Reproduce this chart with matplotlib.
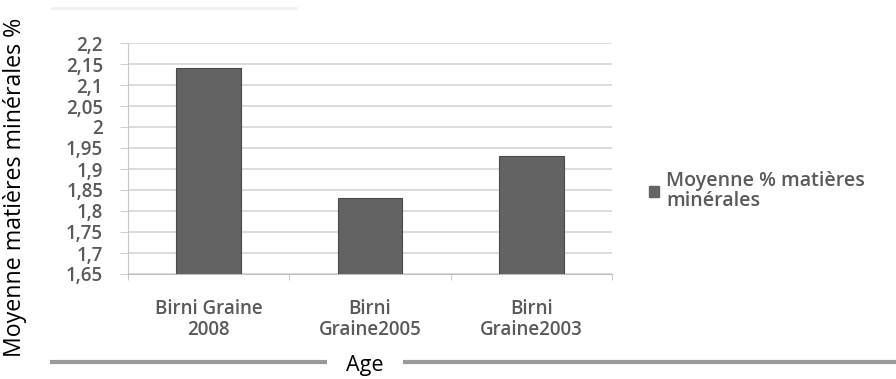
import matplotlib.pyplot as plt
from matplotlib.lines import Line2D

# Data
categories = ["Birni Graine\n2008", "Birni\nGraine2005", "Birni\nGraine2003"]
values = [2.14, 1.83, 1.93]
yticks = [1.65, 1.7, 1.75, 1.8, 1.85, 1.9, 1.95, 2.0, 2.05, 2.1, 2.15, 2.2]
seriesName = "Moyenne % matières\nminérales"

W, H = 896, 379
fig = plt.figure(figsize=(W / 100, H / 100), dpi=100)
ax = fig.add_axes([128 / W, 1 - 274 / H, 484 / W, 231 / H])

grey = "#5a5a5a"
tickFont = {"family": "Open Sans", "size": 13.5, "weight": "semibold"}
ax.bar(range(len(values)), values, width=0.4, color="#636363",
       edgecolor="#4a4a4a", linewidth=0.8, zorder=3, label=seriesName)
ax.set_xlim(-0.5, 2.5)
ax.set_ylim(1.65, 2.2)
ax.set_yticks(yticks)
ax.set_yticklabels([("%g" % t).replace(".", ",") for t in yticks],
                   fontdict=tickFont, color=grey)
ax.set_xticks(range(len(categories)))
ax.set_xticklabels(categories, fontdict=tickFont, color=grey,
                   linespacing=1.05)
ax.tick_params(axis="x", length=0, pad=18)
ax.set_xticks([-0.5, 0.5, 1.5, 2.5], minor=True)
ax.tick_params(axis="x", which="minor", length=4, color="#bfbfbf")
ax.tick_params(axis="y", length=6, color="#d0d0d0", pad=12)
ax.grid(axis="y", color="#d6d6d6", linewidth=1.2, zorder=0)
for s in ["top", "right"]:
    ax.spines[s].set_visible(False)
ax.spines["left"].set_color("#c8c8c8")
ax.spines["bottom"].set_color("#bfbfbf")

fig.text(15 / W, 1 - 187 / H, "Moyenne matières minérales %", rotation=90,
         ha="center", va="center", fontfamily="Open Sans", fontsize=16.7,
         color="black")

# Legend
fig.legend(handles=[plt.Rectangle((0, 0), 1, 1, color="#636363")],
           labels=[seriesName], loc="upper left",
           bbox_to_anchor=(649 / W, 1 - 171 / H), frameon=False,
           prop={"family": "Open Sans", "size": 14, "weight": "semibold"},
           labelcolor=grey, handlelength=0.5, handleheight=0.5,
           handletextpad=0.4, borderaxespad=0, borderpad=0)
for t in fig.legends[0].get_texts():
    t.set_linespacing(1.0)

# Shadow frame lines
fig.add_artist(Line2D([52 / W, 1.0], [1 - 362 / H] * 2, color="#9a9a9a",
                      linewidth=3, transform=fig.transFigure))
fig.add_artist(Line2D([52 / W, 0.33], [1 - 8 / H] * 2, color="#f0f0f0",
                      linewidth=2, transform=fig.transFigure))
fig.text(365 / W, 1 - 366 / H, "Age", ha="center", va="center",
         fontfamily="Open Sans", fontsize=15.5, color="black",
         bbox=dict(facecolor="white", edgecolor="none", pad=14))

fig.savefig("out.png", dpi=100)
